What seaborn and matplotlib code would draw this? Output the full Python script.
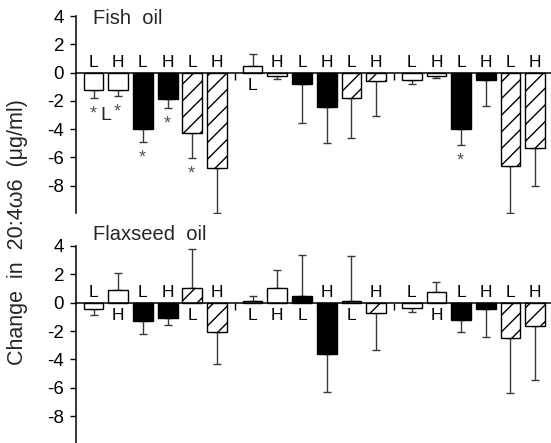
import numpy as np
import pandas as pd
import matplotlib
matplotlib.use("Agg")
import matplotlib.pyplot as plt
import seaborn as sns

sns.set_theme(style="ticks")
plt.rcParams["font.family"] = ["Liberation Sans", "DejaVu Sans"]
plt.rcParams["axes.unicode_minus"] = False
plt.rcParams["hatch.linewidth"] = 1.0

# ---------------- data ----------------
bar_kinds = ["open", "open", "filled", "filled", "hatched", "hatched"] * 3
bar_letters = ["L", "H", "L", "H", "L", "H"] * 3

fish_means = [-1.25, -1.25, -3.96, -1.89, -4.27, -6.74,
              0.47, -0.21, -0.83, -2.47, -1.77, -0.59,
              -0.54, -0.26, -4.00, -0.54, -6.60, -5.33]
fish_err_ends = [-1.77, -1.65, -4.90, -2.50, -6.04, -9.90,
                 1.34, -0.47, -3.60, -4.95, -4.66, -3.09,
                 -0.80, -0.40, -5.09, -2.38, -9.92, -8.01]
fish_label_below = [False, False, False, False, False, False,
                    True, False, False, False, False, False,
                    False, False, False, False, False, False]
fish_signif = [0, 1, 2, 3, 4, 14]

flax_means = [-0.46, 0.90, -1.31, -1.05, 1.06, -2.04,
              0.12, 1.01, 0.45, -3.64, 0.14, -0.75,
              -0.35, 0.75, -1.22, -0.42, -2.49, -1.64]
flax_err_ends = [-0.85, 2.10, -2.23, -1.55, 3.78, -4.32,
                 0.50, 2.30, 3.38, -6.29, 3.30, -3.33,
                 -0.65, 1.48, -2.06, -2.39, -6.36, -5.47]
flax_label_below = [False, True, False, False, True, False,
                    True, True, True, False, True, False,
                    False, True, False, False, False, False]
flax_signif = []

y_ticks = [-8, -6, -4, -2, 0, 2, 4]

# ---------------- layout ----------------
W, H = 551, 443
GAP = 0.44
positions = [i + (i // 6) * GAP for i in range(18)]
dividers = [5 + (1 + GAP) / 2, 11 + GAP + (1 + GAP) / 2]
face = {"open": "white", "filled": "black", "hatched": "white"}

fig = plt.figure(figsize=(W / 100, H / 100), dpi=100)
ax1 = fig.add_axes([76 / W, 1 - 212.5 / H, 1 - 76 / W, (212.5 - 16) / H])
ax2 = fig.add_axes([76 / W, 0, 1 - 76 / W, (443 - 246) / H])


def draw_panel(ax, means, err_ends, below, signif):
    df = pd.DataFrame({"pos": positions, "change": means, "kind": bar_kinds})
    sns.barplot(data=df, x="pos", y="change", native_scale=True, width=0.8,
                color="white", edgecolor="black", linewidth=1.0,
                errorbar=None, ax=ax, zorder=2)
    for patch, kind in zip(ax.patches, bar_kinds):
        patch.set_facecolor(face[kind])
        patch.set_edgecolor("black")
        if kind == "hatched":
            patch.set_hatch("//")
    m = np.asarray(means)
    e = np.asarray(err_ends)
    lower = np.where(e < m, m - e, 0)
    upper = np.where(e > m, e - m, 0)
    ax.errorbar(positions, m, yerr=[lower, upper], fmt="none",
                ecolor="#3a3a3a", elinewidth=1.0, capsize=3, capthick=1.0,
                zorder=1)
    for x, letter, b in zip(positions, bar_letters, below):
        ax.annotate(letter, xy=(x, 0), xytext=(0, -12.5 if b else 4.2),
                    textcoords="offset points", ha="center", va="baseline",
                    fontsize=12.5, color="black")
    for i in signif:
        ax.annotate("*", xy=(positions[i], err_ends[i]), xytext=(-0.5, -15),
                    textcoords="offset points", ha="center", va="baseline",
                    fontsize=13, color="#555555")
    ax.set_xlim(-0.709, 18.52)
    ax.set_ylim(-9.9, 4.0)
    ax.set_xlabel("")
    ax.set_ylabel("")
    ax.set_yticks(y_ticks)
    ax.set_yticklabels([str(t) for t in y_ticks])
    ax.set_xticks(dividers)
    ax.set_xticklabels([])
    ax.spines["top"].set_visible(False)
    ax.spines["right"].set_visible(False)
    ax.spines["bottom"].set_position(("data", 0))
    for s in ("left", "bottom"):
        ax.spines[s].set_linewidth(1.1)
        ax.spines[s].set_color("black")
    ax.tick_params(axis="y", length=4.5, width=1.0, pad=4, labelsize=13.5,
                   colors="black")
    ax.tick_params(axis="x", length=5, width=1.0, direction="out",
                   labelbottom=False, colors="black")
    ax.set_facecolor("none")


draw_panel(ax1, fish_means, fish_err_ends, fish_label_below, fish_signif)
draw_panel(ax2, flax_means, flax_err_ends, flax_label_below, flax_signif)

fig.text(93 / W, 1 - 19 / H, "Fish  oil", ha="left", va="center", fontsize=14.5)
fig.text(93 / W, 1 - 234 / H, "Flaxseed  oil", ha="left", va="center", fontsize=14.5)
fig.text(105.5 / W, 1 - 115 / H, "L", ha="center", va="center", fontsize=14)
fig.text(18 / W, 1 - 232 / H, "Change  in  20:4\u03c96  (\u03bcg/ml)", rotation=90,
         ha="center", va="center", fontsize=15.5)

fig.savefig("out.png", dpi=100, facecolor="white")
